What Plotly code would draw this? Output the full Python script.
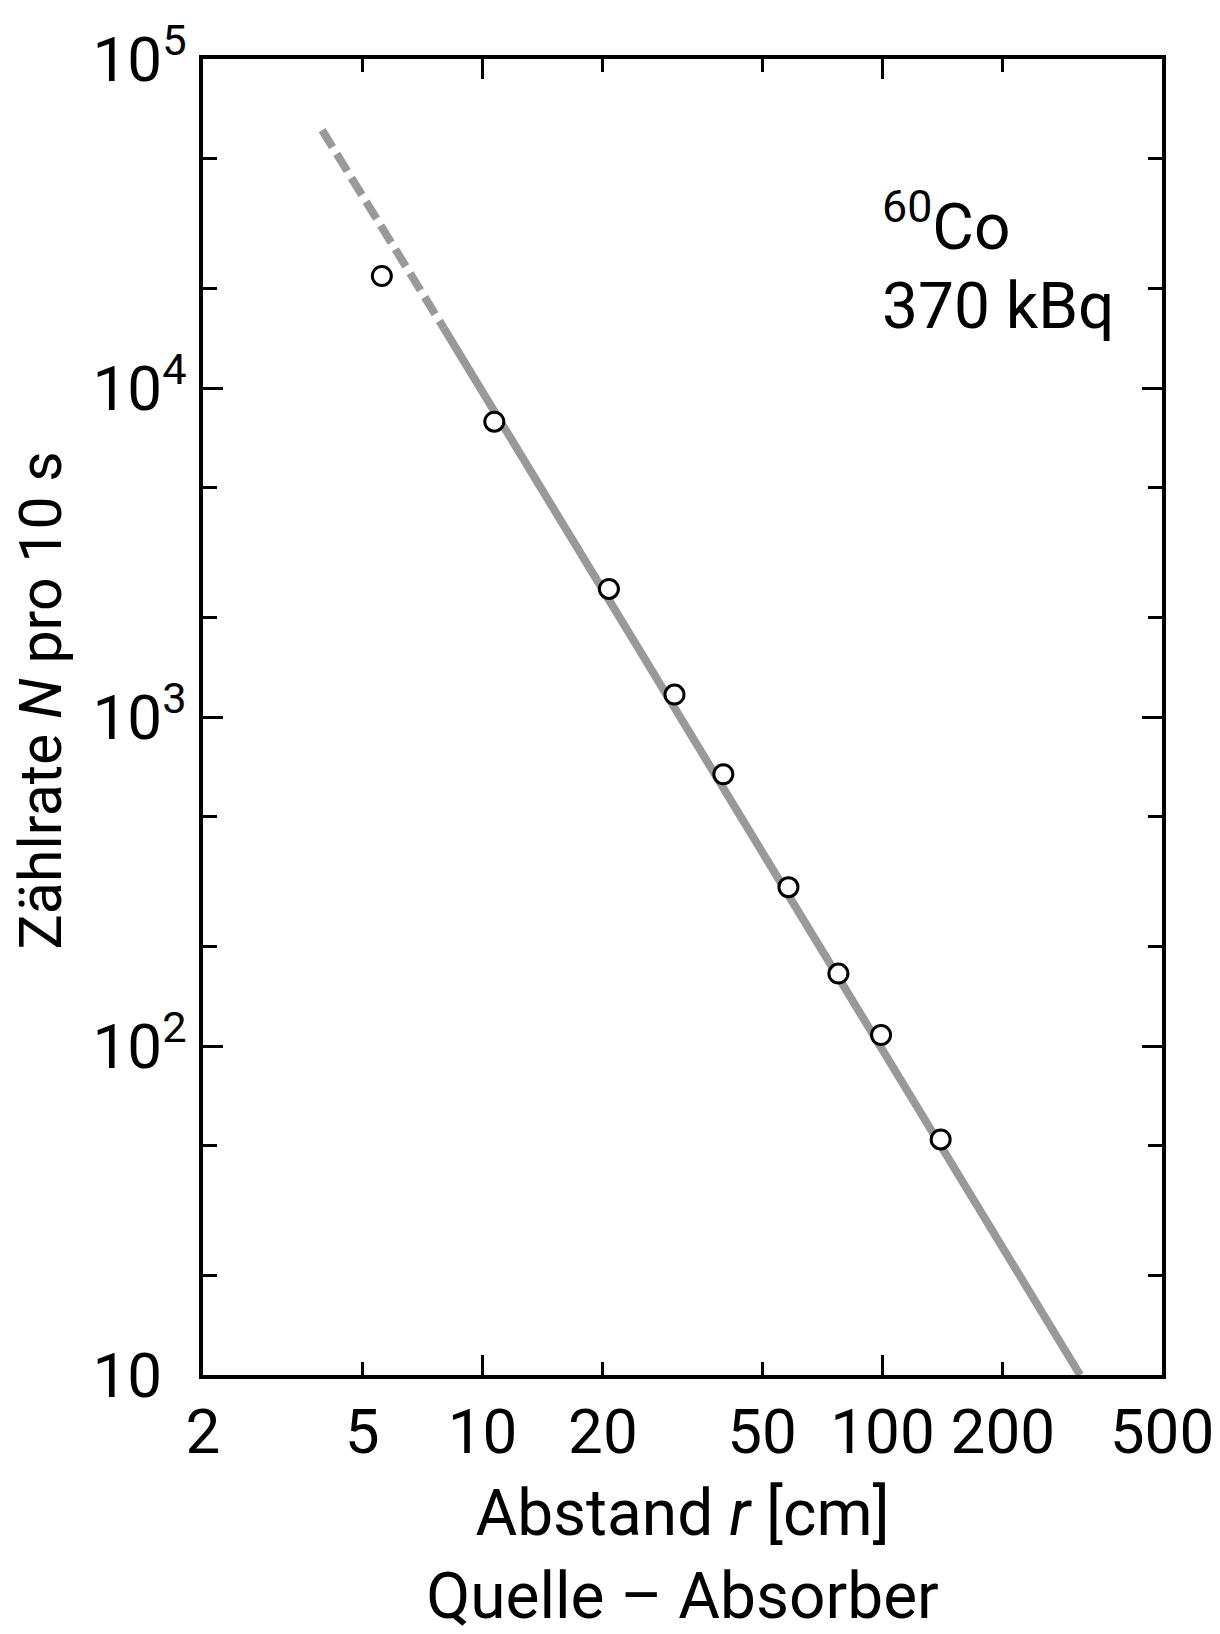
import plotly.graph_objects as go

# Measured data (distance r in cm, count rate N per 10 s)
r_meas = [5.6, 10.7, 20.7, 30.2, 40.0, 58.2, 77.6, 99.2, 139.8]
n_meas = [21900, 7900, 2450, 1170, 670, 304, 166, 108, 52]

# 1/r^2 fit line: dashed part and solid part (endpoints)
r_fit_dashed = [3.97, 8.0]
n_fit_dashed = [60800, 15200]
r_fit_solid = [8.0, 312]
n_fit_solid = [15200, 10]

x_tickvals = [2, 5, 10, 20, 50, 100, 200, 500]
x_ticktext = ["2", "5", "10", "20", "50", "100", "200", "500"]
x_long_ticks = [10, 100]
y_tickvals = [10, 100, 1000, 10000, 100000]
y_ticktext = ["10<sup>\u2007</sup>", "10<sup>2</sup>", "10<sup>3</sup>",
              "10<sup>4</sup>", "10<sup>5</sup>"]
y_minor = [20, 50, 200, 500, 2000, 5000, 20000, 50000]

FONT = "Roboto, sans-serif"
GREY = "#999999"

fig = go.Figure()
fig.add_trace(go.Scatter(x=r_fit_dashed, y=n_fit_dashed, mode="lines",
                         line=dict(color=GREY, width=8, dash="20px,8px"),
                         showlegend=False, hoverinfo="skip"))
fig.add_trace(go.Scatter(x=r_fit_solid, y=n_fit_solid, mode="lines",
                         line=dict(color=GREY, width=8),
                         showlegend=False, hoverinfo="skip"))
fig.add_trace(go.Scatter(x=r_meas, y=n_meas, mode="markers",
                         marker=dict(symbol="circle", size=19, color="white",
                                     line=dict(color="black", width=3)),
                         showlegend=False))

fig.update_layout(
    width=1220, height=1634,
    margin=dict(l=203, r=58, t=59, b=259),
    paper_bgcolor="white", plot_bgcolor="white",
    font=dict(family=FONT, size=62, color="black"),
    xaxis=dict(type="log", range=[0.30103, 2.69897], automargin=False,
               tickvals=x_tickvals, ticktext=x_ticktext,
               ticks="inside", ticklen=13, tickwidth=3, tickcolor="black",
               minor=dict(tickvals=x_long_ticks, ticks="inside", ticklen=20,
                          tickwidth=3, tickcolor="black", showgrid=False),
               showline=True, linewidth=4, linecolor="black", mirror="allticks",
               showgrid=False, zeroline=False,
               tickfont=dict(size=62),
               title=dict(text="Abstand <i>r</i> [cm]<br>Quelle – Absorber",
                          font=dict(size=64), standoff=30)),
    yaxis=dict(type="log", range=[1, 5], automargin=False,
               tickvals=y_tickvals, ticktext=y_ticktext,
               ticks="inside", ticklen=20, tickwidth=3, tickcolor="black",
               minor=dict(tickvals=y_minor, ticks="inside", ticklen=14,
                          tickwidth=3, tickcolor="black", showgrid=False),
               showline=True, linewidth=4, linecolor="black", mirror="allticks",
               showgrid=False, zeroline=False,
               tickfont=dict(size=62),
               title=dict(text="<span>\u2007</span>Zählrate <i>N</i> pro 10 s",
                          font=dict(size=59), standoff=13)),
    annotations=[
        dict(text="<sup>60</sup>Co", xref="paper", yref="paper",
             x=0.706, y=0.842, xanchor="left", yanchor="bottom",
             showarrow=False, font=dict(size=64)),
        dict(text="370 kBq", xref="paper", yref="paper",
             x=0.706, y=0.782, xanchor="left", yanchor="bottom",
             showarrow=False, font=dict(size=64)),
    ],
)

fig.write_html("out.html")
